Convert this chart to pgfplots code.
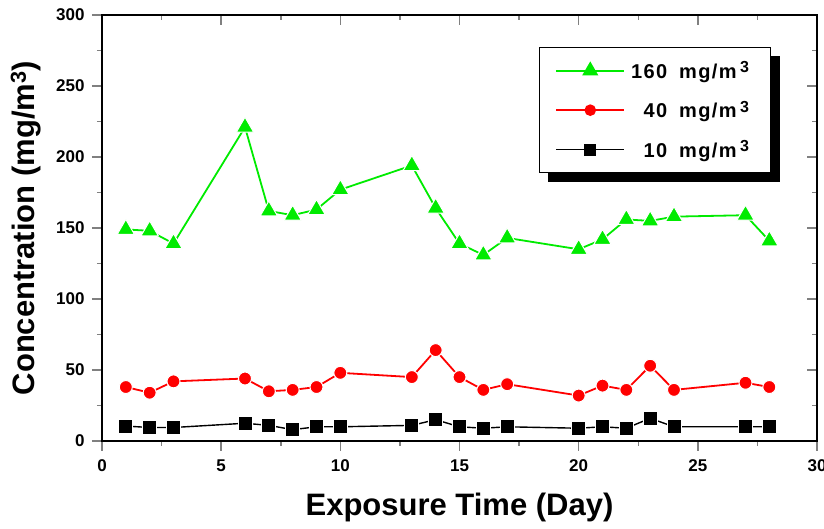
\documentclass[border=0pt]{standalone}
\usepackage{fontspec}
\setmainfont{Liberation Sans}
\newfontfamily\legfont[LetterSpace=7,WordSpace=1.7]{Liberation Sans}
\usepackage{pgfplots}
\pgfplotsset{compat=1.18}
\definecolor{mygreen}{RGB}{0,235,0}
\definecolor{myred}{RGB}{255,0,0}
\newcommand{\supth}{\,\raisebox{0.55ex}{\fontsize{16}{16}\selectfont 3}}
\begin{document}
\begin{tikzpicture}
\useasboundingbox (-102pt,-88pt) rectangle (722pt,441pt);
\pgfplotsset{
  common/.style={
    at={(0,0)}, anchor=south west,
    scale only axis, width=715pt, height=426pt,
    xmin=0, xmax=30, ymin=0, ymax=300,
    xtick={0,5,...,30}, ytick={0,50,...,300},
    minor x tick num=1, minor y tick num=1,
    axis line style={line width=2pt, line cap=rect},
    major tick style={line width=1.5pt},
    minor tick style={line width=1.5pt},
    major tick length=10pt, minor tick length=5pt,
  }
}
\begin{axis}[common,
  axis x line*=top, axis y line*=right,
  tick align=inside, xticklabels={}, yticklabels={},
]
\end{axis}
\begin{axis}[common,
  axis x line*=bottom, axis y line*=left,
  tick align=outside,
  /pgf/number format/assume math mode=true,
  tick label style={font=\fontsize{17}{20}\selectfont\bfseries},
  xticklabel style={yshift=-5pt},
  yticklabel style={xshift=-4pt},
  xlabel={Exposure Time (Day)},
  ylabel={Concentration (mg/m\textsuperscript{3})},
  xlabel style={font=\fontsize{31}{36}\selectfont\bfseries, at={(axis description cs:0.5,-0.176)}, anchor=base},
  ylabel style={font=\fontsize{31}{36}\selectfont\bfseries, at={(axis description cs:-0.0937,0.5)}, anchor=base, rotate=0},
  legend style={name=leg, at={(axis description cs:0.611,0.925)}, anchor=north west,
    draw=black, line width=1pt, fill=white,
    font=\legfont\fontsize{20}{23}\selectfont\bfseries,
    inner xsep=16pt, inner ysep=12pt, row sep=17pt,
    nodes={inner xsep=6pt}},
  legend cell align=right,
  legend image code/.code={\draw[mark repeat=2,mark phase=2,#1,mark options={scale=0.75, draw=none}] plot coordinates {(0pt,0pt) (34pt,0pt) (68pt,0pt)};},
]
\addplot[mygreen, line width=1.8pt, mark=triangle*, mark size=10pt, mark options={fill=mygreen, draw=white, line width=1pt}]
coordinates {(1,149) (2,148) (3,139) (6,221) (7,162) (8,159) (9,163) (10,177) (13,194) (14,164) (15,139) (16,131) (17,143) (20,135) (21,142) (22,156) (23,155) (24,158) (27,159) (28,141)};
\addlegendentry{160 mg/m\supth}
\addplot[myred, line width=1.8pt, mark=*, mark size=6.5pt, mark options={fill=myred, draw=white, line width=1pt}]
coordinates {(1,38) (2,34) (3,42) (6,44) (7,35) (8,36) (9,38) (10,48) (13,45) (14,64) (15,45) (16,36) (17,40) (20,32) (21,39) (22,36) (23,53) (24,36) (27,41) (28,38)};
\addlegendentry{40 mg/m\supth}
\addplot[black, line width=1.4pt, mark=square*, mark size=7pt, mark options={fill=black, draw=white, line width=1pt}]
coordinates {(1,10.5) (2,9.5) (3,9.5) (6,12.5) (7,11) (8,8) (9,10) (10,10) (13,11) (14,15) (15,10) (16,9) (17,10) (20,9) (21,10) (22,9) (23,16) (24,10) (27,10) (28,10)};
\addlegendentry{10 mg/m\supth}
\end{axis}
\fill[black] ([yshift=-9pt]leg.north east) rectangle ([xshift=9pt,yshift=-9pt]leg.south east);
\fill[black] ([xshift=9pt,yshift=-9pt]leg.south west) rectangle (leg.south east);
\end{tikzpicture}
\end{document}
